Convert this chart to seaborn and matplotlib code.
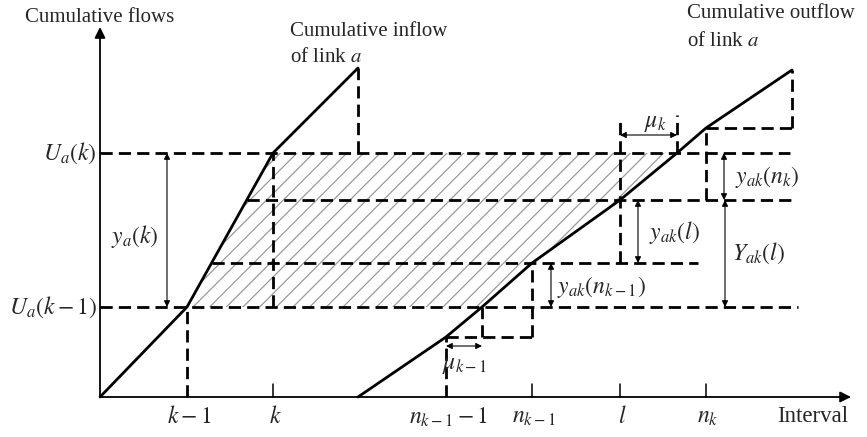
import numpy as np
import pandas as pd
import matplotlib
matplotlib.use("Agg")
import matplotlib.pyplot as plt
import seaborn as sns

# ---- diagram data (x: time axis, y: cumulative vehicles) ----
levels = {"Uk_1": 90, "low_mid": 134, "up_mid": 197, "Uk": 244}
tick_x = [87, 173, 346, 432, 520, 606]
tick_labels = [r"$k-1$", r"$k$", r"$n_{k-1}-1$", r"$n_{k-1}$", r"$l$", r"$n_k$"]

inflow_x = [0, 87, 173, 258]
inflow_y = [0, 90, 244, 329]

outflow_x = [258, 346, 382, 432, 520, 577, 606, 692]
outflow_y = [0, 60, 90, 134, 197, 244, 269, 327]

sns.set_style("white")
plt.rcParams["font.family"] = ["Liberation Serif", "DejaVu Serif"]
plt.rcParams["mathtext.fontset"] = "stix"
plt.rcParams["hatch.linewidth"] = 0.9

fig = plt.figure(figsize=(8.67, 4.37), dpi=100)
ax = fig.add_axes([0, 0, 1, 1])
ax.set_xlim(-100, 767)
ax.set_ylim(-40, 397)
ax.axis("off")

FS = 15          # plain text
MS = 17          # symbols
DASH = dict(color="black", lw=2.0, linestyle=(0, (4.4, 2.2)))

def inflow_at(y):
    return float(np.interp(y, inflow_y, inflow_x))

def outflow_at(y):
    return float(np.interp(y, outflow_y, outflow_x))

# hatched storage region between the two cumulative curves
yb, yt = levels["Uk_1"], levels["Uk"]
ys = np.linspace(yb, yt, 60)
left = [inflow_at(y) for y in ys]
right = [outflow_at(y) for y in ys]
poly_x = left + right[::-1]
poly_y = list(ys) + list(ys[::-1])
ax.fill(poly_x, poly_y, facecolor="none", edgecolor="#9a9a9a", hatch="//",
        linewidth=0, zorder=1)

# axes with arrow heads
arrow_axis = dict(arrowstyle="-|>", lw=1.3, color="black", mutation_scale=16,
                  shrinkA=0, shrinkB=0)
ax.annotate("", xy=(0, 370), xytext=(0, 0), arrowprops=arrow_axis)
ax.annotate("", xy=(751, 0), xytext=(0, 0), arrowprops=arrow_axis)

# cumulative curves
curves = pd.DataFrame({
    "x": inflow_x + outflow_x,
    "y": inflow_y + outflow_y,
    "curve": ["inflow"] * len(inflow_x) + ["outflow"] * len(outflow_x),
})
sns.lineplot(data=curves, x="x", y="y", units="curve", estimator=None,
             color="black", lw=2.0, ax=ax, zorder=4, sort=False)

# horizontal dashed guide lines
ax.plot([0, 690], [levels["Uk"]] * 2, **DASH)
ax.plot([inflow_at(levels["up_mid"]), 692], [levels["up_mid"]] * 2, **DASH)
ax.plot([inflow_at(levels["low_mid"]), 598], [levels["low_mid"]] * 2, **DASH)
ax.plot([0, 698], [levels["Uk_1"]] * 2, **DASH)
ax.plot([tick_x[2], tick_x[3]], [outflow_y[1]] * 2, **DASH)
ax.plot([tick_x[5], outflow_x[-1]], [outflow_y[6]] * 2, **DASH)

# vertical dashed guide lines
ax.plot([tick_x[0]] * 2, [0, levels["Uk_1"]], **DASH)
ax.plot([tick_x[1]] * 2, [levels["Uk_1"], levels["Uk"]], **DASH)
ax.plot([inflow_x[-1]] * 2, [levels["Uk"], inflow_y[-1]], **DASH)
ax.plot([tick_x[2]] * 2, [0, outflow_y[1]], **DASH)
ax.plot([outflow_at(levels["Uk_1"])] * 2, [outflow_y[1], levels["Uk_1"]], **DASH)
ax.plot([tick_x[3]] * 2, [outflow_y[1], levels["low_mid"]], **DASH)
ax.plot([tick_x[4]] * 2, [levels["low_mid"], 279], **DASH)
ax.plot([outflow_at(levels["Uk"])] * 2, [levels["Uk"], 282], **DASH)
ax.plot([tick_x[5]] * 2, [levels["up_mid"], outflow_y[6]], **DASH)
ax.plot([outflow_x[-1]] * 2, [outflow_y[6], outflow_y[-1]], **DASH)

# short solid ticks on the time axis
for tx in (tick_x[1], tick_x[3], tick_x[4], tick_x[5]):
    ax.plot([tx, tx], [0, 13], color="black", lw=1.1)

# tick labels
for tx, lab in zip(tick_x, tick_labels):
    ax.text(tx + 2, -20, lab, fontsize=MS, ha="center", va="center")
ax.text(713, -20, "Interval", fontsize=16.5, ha="center", va="center")

# level labels
ax.text(-3, levels["Uk"], r"$U_a(k)$", fontsize=MS, ha="right", va="center")
ax.text(-3, levels["Uk_1"], r"$U_a(k-1)$", fontsize=MS, ha="right", va="center")

# titles for the axis and curves
ax.text(-75, 380, "Cumulative flows", fontsize=FS, ha="left", va="center")
ax.text(190, 365, "Cumulative inflow", fontsize=FS, ha="left", va="center")
ax.text(190, 339, r"of link $a$", fontsize=FS, ha="left", va="center")
ax.text(587, 383, "Cumulative outflow", fontsize=FS, ha="left", va="center")
ax.text(587, 356, r"of link $a$", fontsize=FS, ha="left", va="center")

# dimension arrows
dim = dict(arrowstyle="<|-|>", lw=0.8, color="black", mutation_scale=9,
           shrinkA=0, shrinkB=0)

def vdim(x, y0, y1):
    ax.annotate("", xy=(x, y1), xytext=(x, y0), arrowprops=dim)

def hdim(y, x0, x1):
    ax.annotate("", xy=(x1, y), xytext=(x0, y), arrowprops=dim)

vdim(67, levels["Uk_1"], levels["Uk"])
ax.text(35, 161, r"$y_a(k)$", fontsize=MS, ha="center", va="center")

hdim(262, tick_x[4], outflow_at(levels["Uk"]))
ax.text(555, 274, r"$\mu_k$", fontsize=MS, ha="center", va="center")

vdim(624, levels["up_mid"], levels["Uk"])
ax.text(667, 220, r"$y_{ak}(n_k)$", fontsize=MS, ha="center", va="center")

vdim(538, levels["low_mid"], levels["up_mid"])
ax.text(574, 165, r"$y_{ak}(l)$", fontsize=MS, ha="center", va="center")

vdim(625, levels["Uk_1"], levels["up_mid"])
ax.text(659, 144, r"$Y_{ak}(l)$", fontsize=MS, ha="center", va="center")

vdim(451, levels["Uk_1"], levels["low_mid"])
ax.text(502, 110, r"$y_{ak}(n_{k-1})$", fontsize=MS, ha="center", va="center")

hdim(51, tick_x[2], outflow_at(levels["Uk_1"]))
ax.text(365, 32, r"$\mu_{k-1}$", fontsize=MS, ha="center", va="center")

fig.savefig("out.png", dpi=100)
